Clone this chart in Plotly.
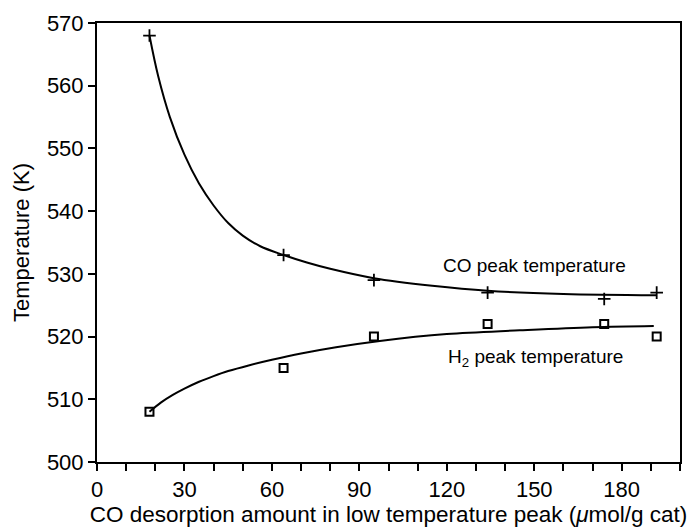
import plotly.graph_objects as go

# Measured peak temperatures vs. CO desorbed in the low-temperature peak
co_amount = [18, 64, 95, 134, 174, 192]
co_peak_temp = [568, 533, 529, 527, 526, 527]
h2_peak_temp = [508, 515, 520, 522, 522, 520]

# Trend curves drawn through the data
co_trend_x = [18, 21, 25, 30, 35, 40, 45, 50, 56, 64, 72, 80, 95, 115, 134, 160, 192]
co_trend_t = [568, 561.5, 555, 549, 544.4, 540.9, 538.1, 536.1, 534.4, 533, 531.8, 530.8,
              529.3, 528.1, 527.3, 526.8, 526.6]
h2_trend_x = [18, 22, 26, 30, 35, 40, 45, 52, 60, 70, 82, 97, 120, 145, 170, 191]
h2_trend_t = [508, 509.5, 510.7, 511.7, 512.8, 513.7, 514.5, 515.4, 516.3, 517.3, 518.3,
              519.3, 520.4, 521.0, 521.5, 521.7]

x_ticks = [0, 30, 60, 90, 120, 150, 180]
y_ticks = [500, 510, 520, 530, 540, 550, 560, 570]

FONT = "Liberation Sans, Arial, sans-serif"

W, H = 693, 527
L, R, T, B = 97, 13, 23, 65
PW, PH = W - L - R, H - T - B


def px_to_paper(px, py):
    return (px - L) / PW, 1 - (py - T) / PH


fig = go.Figure()
for tx, ty in [(co_trend_x, co_trend_t), (h2_trend_x, h2_trend_t)]:
    fig.add_trace(go.Scatter(x=tx, y=ty, mode="lines",
                             line=dict(color="black", width=2, shape="spline", smoothing=1),
                             hoverinfo="skip"))
fig.add_trace(go.Scatter(x=co_amount, y=co_peak_temp, mode="markers", name="CO",
                         marker=dict(symbol="cross-thin", size=9, color="black",
                                     line=dict(color="black", width=1.8))))
fig.add_trace(go.Scatter(x=co_amount, y=h2_peak_temp, mode="markers", name="H2",
                         marker=dict(symbol="square-open", size=8, color="black",
                                     line=dict(color="black", width=2))))

for label, (px, py) in [("CO peak temperature", (534, 265)),
                        ("H<sub>2</sub> peak temperature", (535, 358))]:
    ax, ay = px_to_paper(px, py)
    fig.add_annotation(x=ax, y=ay, xref="paper", yref="paper", text=label,
                       xanchor="center", yanchor="middle", showarrow=False,
                       font=dict(family=FONT, size=19, color="black"))

axis_common = dict(
    ticks="outside", ticklen=7, tickwidth=2, tickcolor="black",
    showline=True, linecolor="black", linewidth=2, mirror=True,
    showgrid=False, zeroline=False, automargin=False,
    tickfont=dict(family=FONT, size=22, color="black"),
)

fig.update_layout(
    width=W, height=H,
    margin=dict(l=L, r=R, t=T, b=B),
    paper_bgcolor="white", plot_bgcolor="white",
    showlegend=False,
    font=dict(family=FONT, size=22, color="black"),
    xaxis=dict(
        range=[0, 200], tickvals=x_ticks, ticktext=[str(v) for v in x_ticks],
        minor=dict(dtick=10, tick0=0, ticks="outside", ticklen=7, tickwidth=2,
                   tickcolor="black"),
        title=dict(text="CO desorption amount in low temperature peak (<i>μ</i>mol/g cat)",
                   font=dict(family=FONT, size=22.5), standoff=8),
        **axis_common,
    ),
    yaxis=dict(
        range=[500, 570], tickvals=y_ticks,
        title=dict(text="Temperature (K)", font=dict(family=FONT, size=22), standoff=11),
        **axis_common,
    ),
)

fig.write_html("out.html")
